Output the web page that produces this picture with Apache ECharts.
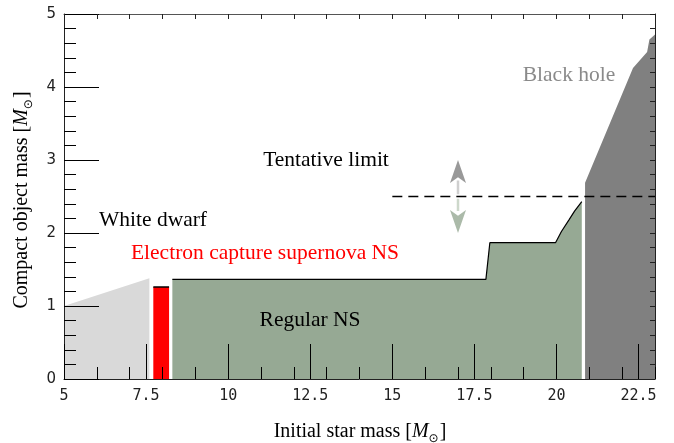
<!DOCTYPE html>
<html>
<head>
<meta charset="utf-8">
<script src="https://cdn.jsdelivr.net/npm/echarts@6/dist/echarts.min.js"></script>
<style>html,body{margin:0;padding:0;background:#fff}#c{width:674px;height:443px}</style>
</head>
<body>
<div id="c"></div>
<script>
// ---- data (initial star mass, compact object mass) ----
const whiteDwarf = [[5.0, 1.0], [7.6, 1.38]];
const ecsnNS = [[7.72, 1.26], [8.2, 1.26]];
const regularNS = [[8.3, 1.365], [17.85, 1.365], [17.97, 1.867], [19.97, 1.867], [20.15, 2.02], [20.38, 2.18], [20.55, 2.3], [20.77, 2.43]];
const blackHole = [[20.87, 2.69], [22.33, 4.26], [22.76, 4.48], [22.83, 4.65], [23.0, 4.72]];
const tentativeLimit = [[15, 2.5], [23, 2.5]];
const arrowUpShaft = [[17, 2.53], [17, 2.72]];
const arrowDownShaft = [[17, 2.47], [17, 2.3]];
const arrowUpTip = [[17, 3.0]];
const arrowDownTip = [[17, 2.0]];
const xRange = [5, 23];
const yRange = [0, 5];
const labels = {
  whiteDwarf: 'White dwarf',
  ecsn: 'Electron capture supernova NS',
  tentative: 'Tentative limit',
  regular: 'Regular NS',
  blackHole: 'Black hole'
};

const serif = 'Liberation Serif';
const chart = echarts.init(document.getElementById('c'), null, {renderer: 'canvas'});

function area(data, fill, lineColor, lw) {
  return {
    type: 'line', data: data, showSymbol: false, symbol: 'none', silent: true,
    lineStyle: {color: lineColor || fill, width: lw || 0},
    areaStyle: {color: fill, opacity: 1}, z: 2
  };
}
function txt(x, y, text, color) {
  return {type: 'text', x: x, y: y, z: 100, silent: true, style: {
    text: '{a|' + text + '}', fontFamily: serif, fontSize: 21.5, fill: color, textAlign: 'center', textVerticalAlign: 'middle',
    rich: {a: {fontFamily: serif, fontSize: 21.5, fill: color}}}};
}
const nameRich = {
  n: {fontFamily: serif, fontSize: 20, fill: '#000'},
  i: {fontStyle: 'italic', fontFamily: serif, fontSize: 20, fill: '#000'},
  s: {fontFamily: 'DejaVu Sans', fontSize: 12, padding: [14, 1, 0, 0], fill: '#000'}
};

const axisLineStyle = {color: '#222', width: 1};

const option = {
  animation: false,
  grid: {left: 64, right: 19, top: 14, bottom: 64},
  xAxis: [
    {type: 'value', min: xRange[0], max: xRange[1], interval: 2.5, position: 'bottom', z: 10,
     splitLine: {show: false},
     axisLine: {lineStyle: axisLineStyle},
     axisTick: {inside: true, length: 35, lineStyle: {color: '#000', width: 1}},
     axisLabel: {margin: 10, showMaxLabel: false, fontFamily: 'DejaVu Sans Mono', fontSize: 15, color: '#222',
       formatter: v => (v === 23 ? '' : String(v))}},
    {type: 'value', min: xRange[0], max: xRange[1], interval: 1, position: 'bottom', z: 10,
     splitLine: {show: false}, axisLine: {show: false}, axisLabel: {show: false},
     axisTick: {inside: true, length: 12, lineStyle: {color: '#000', width: 1}}},
    {type: 'value', min: xRange[0], max: xRange[1], interval: 1, position: 'top', z: 10,
     splitLine: {show: false}, axisLabel: {show: false},
     axisLine: {lineStyle: {color: '#555', width: 1}},
     axisTick: {inside: true, length: 5, lineStyle: {color: '#222', width: 1}}}
  ],
  yAxis: [
    {type: 'value', min: yRange[0], max: yRange[1], interval: 1, position: 'left', z: 10,
     splitLine: {show: false},
     axisLine: {lineStyle: axisLineStyle},
     axisTick: {inside: true, length: 35, lineStyle: {color: '#000', width: 1}},
     minorTick: {show: true, splitNumber: 5, length: 12, lineStyle: {color: '#000', width: 1}},
     axisLabel: {margin: 8, fontFamily: 'DejaVu Sans', fontSize: 15, color: '#222'}},
    {type: 'value', min: yRange[0], max: yRange[1], interval: 1, position: 'right', z: 10,
     splitLine: {show: false}, axisLabel: {show: false},
     axisLine: {lineStyle: axisLineStyle},
     axisTick: {inside: true, length: 5, lineStyle: {color: '#222', width: 1}},
     minorTick: {show: true, splitNumber: 5, length: 5, lineStyle: {color: '#222', width: 1}}}
  ],
  series: [
    area(whiteDwarf, '#d9d9d9'),
    area(ecsnNS, '#ff0000', '#000', 1.5),
    area(regularNS, '#96a994', '#000', 1.2),
    area(blackHole, '#808080'),
    {type: 'line', data: tentativeLimit, showSymbol: false, symbol: 'none', silent: true, z: 5,
     lineStyle: {color: '#000', width: 1.3, type: [10, 6]}},
    {type: 'line', data: arrowUpShaft, showSymbol: false, symbol: 'none', silent: true, z: 5,
     lineStyle: {color: '#cfcfcf', width: 2.5}},
    {type: 'line', data: arrowDownShaft, showSymbol: false, symbol: 'none', silent: true, z: 5,
     lineStyle: {color: '#cdd8cb', width: 2.5}},
    {type: 'scatter', data: arrowUpTip, symbol: 'arrow', symbolSize: [12, 23], symbolRotate: 0, silent: true, z: 6,
     itemStyle: {color: '#808080'}},
    {type: 'scatter', data: arrowDownTip, symbol: 'arrow', symbolSize: [12, 23], symbolRotate: 180, silent: true, z: 6,
     itemStyle: {color: '#96a994'}}
  ],
  graphic: [
    txt(153, 220, labels.whiteDwarf, '#000'),
    txt(265, 253, labels.ecsn, '#ff0000'),
    txt(326, 160, labels.tentative, '#000'),
    txt(310, 320, labels.regular, '#000'),
    txt(569, 75, labels.blackHole, '#8a8a8a'),
    {type: 'text', x: 360, y: 432, z: 100, silent: true, style: {
      text: '{n|Initial star mass [}{i|M}{s|⊙}{n|]}', fontFamily: serif, fontSize: 20, fill: '#000', textAlign: 'center', textVerticalAlign: 'middle',
      rich: nameRich}},
    {type: 'text', x: 22, y: 200, rotation: Math.PI / 2, z: 100, silent: true, style: {
      text: '{n|Compact object mass [}{i|M}{s|⊙}{n|]}', fontFamily: serif, fontSize: 20, fill: '#000', textAlign: 'center', textVerticalAlign: 'middle',
      rich: nameRich}}
  ]
};
chart.setOption(option);
</script>
</body>
</html>
